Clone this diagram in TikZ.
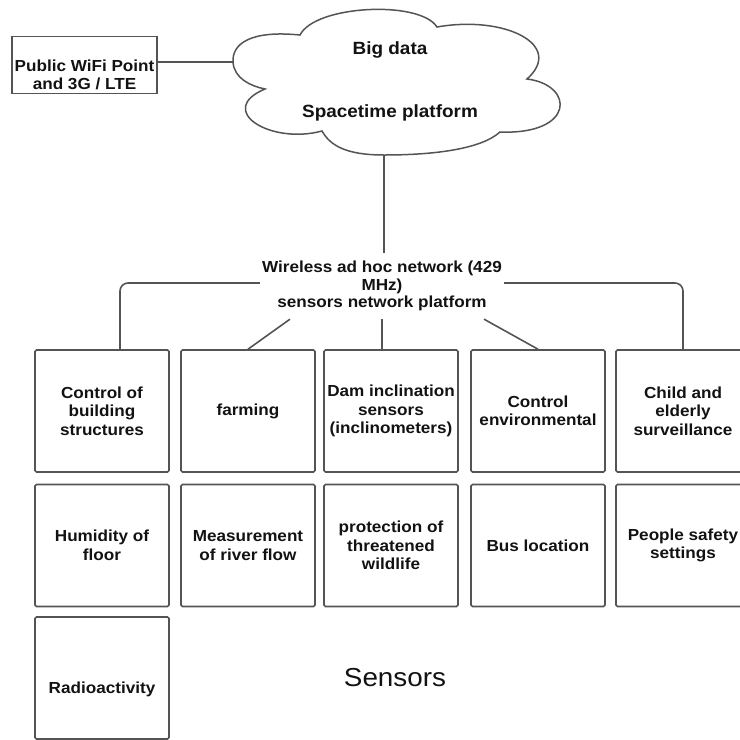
\documentclass[tikz,border=0pt]{standalone}
\usepackage{fontspec}
\setmainfont{Liberation Sans}[FakeStretch=1.07]
\definecolor{lc}{gray}{0.33}
\definecolor{tc}{gray}{0.07}
\newcommand\sbfont{\bfseries\fontsize{16}{18.5}\selectfont}
\newcommand\cloudfont{\bfseries\fontsize{17.7}{20}\selectfont}
\newcommand\bigsfont{\fontsize{26}{30}\selectfont}
\begin{document}
\begin{tikzpicture}[x=1pt,y=-1pt,
  conn/.style={draw=lc,line width=1.6pt},
  sensorbox/.style={draw=lc,line width=1.6pt,rounded corners=1.5pt,
    minimum width=134pt,minimum height=122pt,inner sep=0pt,
    align=center,font=\sbfont,text=tc},
  plainbox/.style={draw=lc,line width=1.6pt,inner sep=0pt},
  txt/.style={inner sep=0pt,align=center,text=tc}]
\clip (0,0) rectangle (740,740);
\useasboundingbox (0,0) rectangle (740,740);

% gateway box
\node[plainbox,minimum width=145pt,minimum height=57pt,
  label={[txt,font=\sbfont,yshift=-10pt]center:Public WiFi Point\\and 3G / LTE}]
  (wifi) at (84.5,65) {};

% cloud outline
\draw[conn,line width=1.5pt] (300,35) .. controls (315,5) and (420,0) .. (437,27)
  .. controls (505,15) and (565,45) .. (527,79)
  .. controls (575,85) and (575,135) .. (500,132)
  .. controls (480,150) and (430,155) .. (384,155) coordinate (cloudS)
  .. controls (345,155) and (330,145) .. (322,131)
  .. controls (270,145) and (215,110) .. (265,89)
  .. controls (250,86) and (234,78) .. (233,62) coordinate (cloudW)
  .. controls (232,44) and (250,30) .. cycle;
\node[txt,font=\cloudfont] (bigdata) at (390,50) {Big data};
\node[txt,font=\cloudfont] (spacetime) at (390,113) {Spacetime platform};

% network platform label
\node[txt,font=\bfseries\fontsize{16}{17.5}\selectfont,inner xsep=2pt,inner ysep=8pt]
  (net) at (382,286) {Wireless ad hoc network (429\\MHz)\\sensors network platform};

% sensor boxes
\node[sensorbox] (b1) at (102,411) {Control of\\building\\structures};
\node[sensorbox] (b2) at (248,411) {farming};
\node[sensorbox] (b3) at (391,411) {Dam inclination\\sensors\\(inclinometers)};
\node[sensorbox] (b4) at (538,411) {Control\\environmental};
\node[sensorbox] (b5) at (683,411) {Child and\\elderly\\surveillance};

\node[sensorbox] (b6) at (102,545.5) {Humidity of\\floor};
\node[sensorbox] (b7) at (248,545.5) {Measurement\\of river flow};
\node[sensorbox] (b8) at (391,545.5) {protection of\\threatened\\wildlife};
\node[sensorbox] (b9) at (538,545.5) {Bus location};
\node[sensorbox] (b10) at (683,545.5) {People safety\\settings};

\node[sensorbox,label={[txt,font=\sbfont,yshift=-11pt]center:Radioactivity}]
  (b11) at (102,678) {};

\node[txt,font=\bigsfont] (sensors) at (395,678) {Sensors};

% connectors
\draw[conn] ([yshift=3pt]wifi.east) -- (cloudW);
\draw[conn] (cloudS) -- (cloudS |- net.north);
\draw[conn,rounded corners=8pt] ([yshift=3pt]net.west) -| ([xshift=18pt]b1.north);
\draw[conn,rounded corners=8pt] ([yshift=3pt]net.east) -| (b5.north);
\draw[conn] ([xshift=-92pt]net.south) -- (b2.north);
\draw[conn] (net.south) -- (net.south |- b3.north);
\draw[conn] ([xshift=102pt]net.south) -- (b4.north);
\end{tikzpicture}
\end{document}
